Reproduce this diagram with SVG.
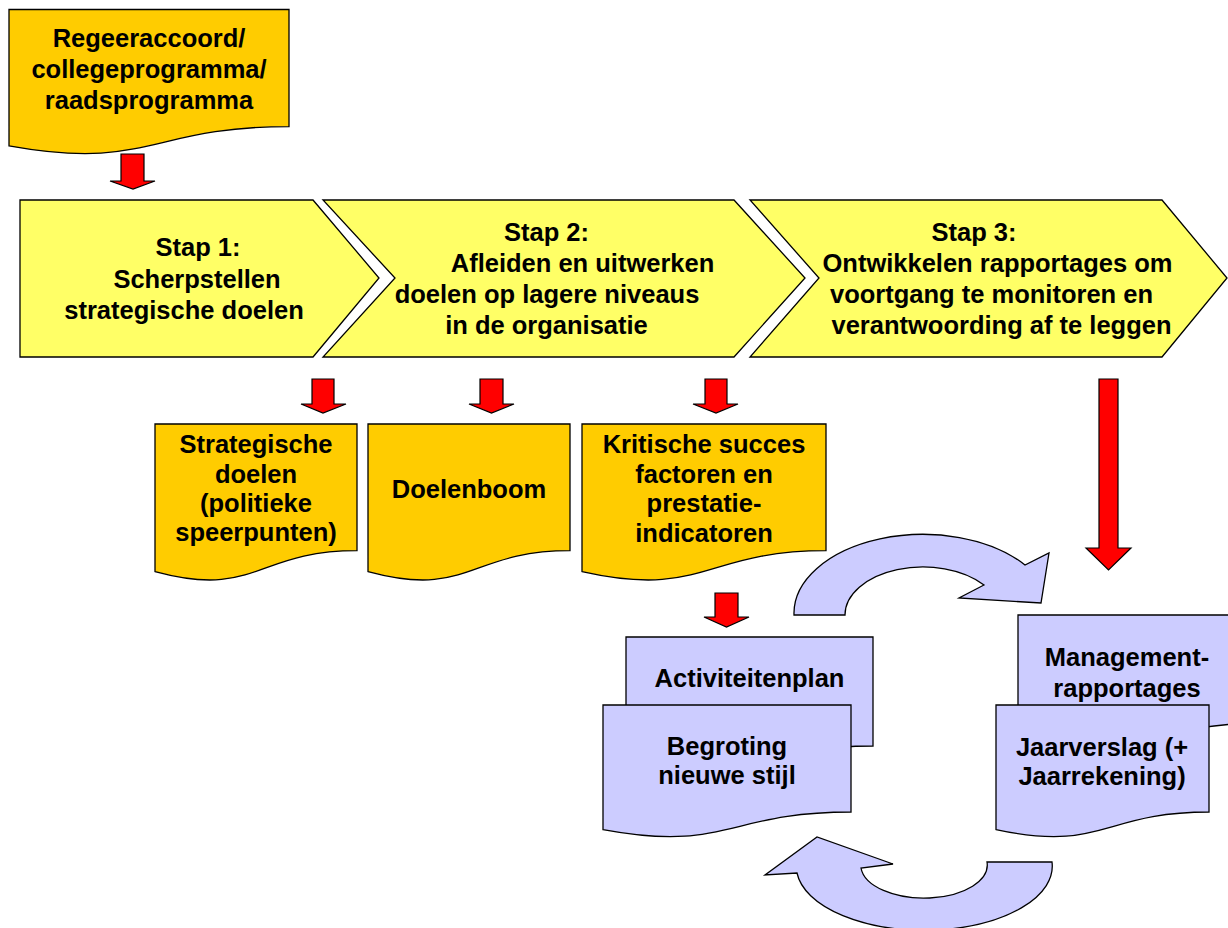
<svg xmlns="http://www.w3.org/2000/svg" width="1228" height="928" viewBox="0 0 1228 928">
<style>
.t{font-family:"Liberation Sans",Arial,sans-serif;font-weight:bold;font-size:25.5px;fill:#000;text-anchor:middle}
.doc{fill:#FFCC00;stroke:#000;stroke-width:1.3}
.chev{fill:#FFFF66;stroke:#000;stroke-width:1.3}
.lav{fill:#CCCCFF;stroke:#000;stroke-width:1.3}
.red{fill:#FF0000;stroke:#000;stroke-width:1.2}
</style>
<rect width="1228" height="928" fill="#fff"/>

<g id="regeeraccoord">
<path class="doc" d="M9,9.5 H289 V126.6 C149,126.6 149,171.2 9,145.9 Z"/>
<text class="t" x="149" y="47">Regeeraccoord/</text>
<text class="t" x="149" y="78">collegeprogramma/</text>
<text class="t" x="149" y="109">raadsprogramma</text>
</g>

<g id="stap1">
<path class="chev" d="M20,200 H313 L379,278 L313,357 H20 Z"/>
<text class="t" x="198" y="256">Stap 1:</text>
<text class="t" x="197" y="288">Scherpstellen</text>
<text class="t" x="184" y="319">strategische doelen</text>
</g>

<g id="stap2">
<path class="chev" d="M323,200 H734 L805,278 L734,357 H323 L395,278 Z"/>
<text class="t" x="546.5" y="241">Stap 2:</text>
<text class="t" x="582.5" y="272">Afleiden en uitwerken</text>
<text class="t" x="547" y="303">doelen op lagere niveaus</text>
<text class="t" x="546.5" y="334">in de organisatie</text>
</g>

<g id="stap3">
<path class="chev" d="M750,200 H1162 L1227,278 L1162,357 H750 L819,278 Z"/>
<text class="t" x="974" y="241">Stap 3:</text>
<text class="t" x="997.5" y="272">Ontwikkelen rapportages om</text>
<text class="t" x="991.5" y="303">voortgang te monitoren en</text>
<text class="t" x="1001.5" y="334">verantwoording af te leggen</text>
</g>

<g id="strategische-doelen">
<path class="doc" d="M155,424 H357 V550.7 C256,550.7 256,599 155,571.6 Z"/>
<text class="t" x="256" y="453">Strategische</text>
<text class="t" x="256" y="483">doelen</text>
<text class="t" x="256" y="512">(politieke</text>
<text class="t" x="256" y="541">speerpunten)</text>
</g>

<g id="doelenboom">
<path class="doc" d="M368,424 H570 V550.7 C469,550.7 469,599 368,571.6 Z"/>
<text class="t" x="469" y="498">Doelenboom</text>
</g>

<g id="ksf">
<path class="doc" d="M582,424 H826 V550.7 C704,550.7 704,599 582,571.6 Z"/>
<text class="t" x="704" y="453">Kritische succes</text>
<text class="t" x="704" y="483">factoren en</text>
<text class="t" x="704" y="512">prestatie-</text>
<text class="t" x="704" y="542">indicatoren</text>
</g>

<g id="activiteitenplan">
<path class="lav" d="M626,637 H873 V746 C749.5,746 749.5,787.6 626,764 Z"/>
<text class="t" x="749.5" y="687">Activiteitenplan</text>
</g>

<g id="begroting">
<path class="lav" d="M603,705 H851 V812 C727,812 727,852.7 603,829.6 Z"/>
<text class="t" x="727" y="755">Begroting</text>
<text class="t" x="727" y="784">nieuwe stijl</text>
</g>

<g id="managementrapportages">
<path class="lav" d="M1018,615 H1266 V723 C1142,723 1142,764.5 1018,741 Z"/>
<text class="t" x="1127" y="666">Management-</text>
<text class="t" x="1127" y="697">rapportages</text>
</g>

<g id="jaarverslag">
<path class="lav" d="M996,705 H1209 V812 C1102.5,812 1102.5,852.7 996,829.6 Z"/>
<text class="t" x="1102" y="756">Jaarverslag (+</text>
<text class="t" x="1102" y="785">Jaarrekening)</text>
</g>

<g id="connectors">
<path class="red" d="M121,154 H144 V181 H155 L133,189 L110,181 H121 Z"/>
<path class="red" d="M312,379 H334 V404 H346 L323,413 L301,404 H312 Z"/>
<path class="red" d="M480,379 H503 V404 H514 L491.5,413 L469,404 H480 Z"/>
<path class="red" d="M705,379 H727 V404 H738 L716,413 L693,404 H705 Z"/>
<path class="red" d="M715,593 H738 V617 H749 L726.5,627 L704,617 H715 Z"/>
<path class="red" d="M1099,379 H1118 V548 H1131 L1108.5,570 L1086,548 H1099 Z"/>
<path class="lav" d="M794,615 A129,79 0 0 1 1025,565 L1049,553 L1041,603 L959,598 L984,585 A78,48 0 0 0 845,615 Z"/>
<path class="lav" d="M1052,862 A128,64 0 0 1 797,873 L765,875 L817,837 L893,864 L861,868 A63,33 0 0 0 987,862 Z"/>
</g>
</svg>
